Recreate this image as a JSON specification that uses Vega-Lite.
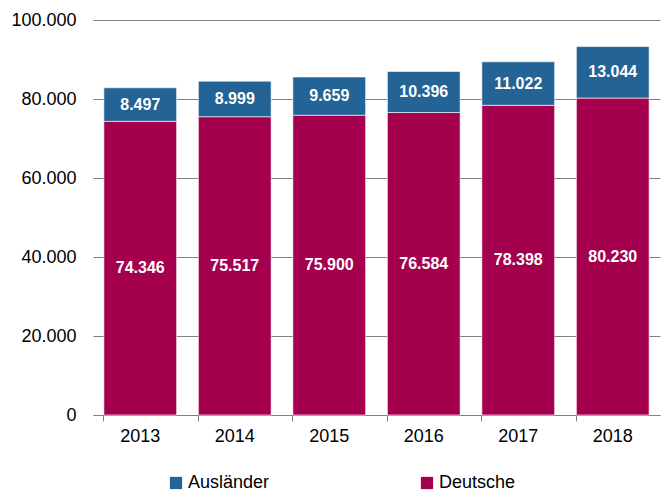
{
  "$schema": "https://vega.github.io/schema/vega-lite/v6.json",
  "width": 567,
  "height": 395,
  "autosize": {"type": "none"},
  "padding": {"left": 93, "top": 20, "right": 3, "bottom": 79},
  "data": {
    "values": [
      {"Jahr": "2013", "Gruppe": "Deutsche", "Anzahl": 74346},
      {"Jahr": "2013", "Gruppe": "Ausländer", "Anzahl": 8497},
      {"Jahr": "2014", "Gruppe": "Deutsche", "Anzahl": 75517},
      {"Jahr": "2014", "Gruppe": "Ausländer", "Anzahl": 8999},
      {"Jahr": "2015", "Gruppe": "Deutsche", "Anzahl": 75900},
      {"Jahr": "2015", "Gruppe": "Ausländer", "Anzahl": 9659},
      {"Jahr": "2016", "Gruppe": "Deutsche", "Anzahl": 76584},
      {"Jahr": "2016", "Gruppe": "Ausländer", "Anzahl": 10396},
      {"Jahr": "2017", "Gruppe": "Deutsche", "Anzahl": 78398},
      {"Jahr": "2017", "Gruppe": "Ausländer", "Anzahl": 11022},
      {"Jahr": "2018", "Gruppe": "Deutsche", "Anzahl": 80230},
      {"Jahr": "2018", "Gruppe": "Ausländer", "Anzahl": 13044}
    ]
  },
  "encoding": {
    "x": {
      "field": "Jahr",
      "type": "nominal",
      "scale": {"paddingInner": 0.23, "paddingOuter": 0.115},
      "axis": {
        "title": null,
        "labelAngle": 0,
        "labelFont": "Liberation Sans",
        "labelFontSize": 18,
        "labelColor": "#000000",
        "labelPadding": 6,
        "domainColor": "#808080",
        "tickColor": "#808080",
        "tickSize": 6,
        "bandPosition": 0,
        "grid": false
      }
    },
    "y": {
      "field": "Anzahl",
      "type": "quantitative",
      "stack": "zero",
      "scale": {"domain": [0, 100000]},
      "axis": {
        "title": null,
        "values": [0, 20000, 40000, 60000, 80000, 100000],
        "format": ",d",
        "labelFont": "Liberation Sans",
        "labelFontSize": 18,
        "labelColor": "#000000",
        "labelPadding": 17,
        "ticks": false,
        "domain": false,
        "grid": true,
        "gridColor": "#808080",
        "gridWidth": 1
      }
    },
    "order": {"field": "Gruppe", "sort": "descending"}
  },
  "layer": [
    {
      "mark": {"type": "bar", "stroke": "#ffffff", "strokeWidth": 1, "strokeOpacity": 0.6},
      "encoding": {
        "color": {
          "field": "Gruppe",
          "type": "nominal",
          "scale": {"domain": ["Ausländer", "Deutsche"], "range": ["#236395", "#A5004D"]},
          "legend": {
            "title": null,
            "orient": "none",
            "direction": "horizontal",
            "legendX": 74,
            "legendY": 454,
            "symbolType": "square",
            "symbolSize": 150,
            "symbolStrokeWidth": 0,
            "labelFont": "Liberation Sans",
            "labelFontSize": 18,
            "labelColor": "#000000",
            "labelOffset": 3,
            "columnPadding": 148
          }
        }
      }
    },
    {
      "mark": {"type": "text", "color": "#ffffff", "font": "Liberation Sans", "fontWeight": "bold", "fontSize": 16, "baseline": "middle"},
      "encoding": {
        "y": {"field": "Anzahl", "type": "quantitative", "stack": "zero", "bandPosition": 0.5},
        "text": {"field": "Anzahl", "type": "quantitative", "format": ",d"}
      }
    }
  ],
  "config": {
    "view": {"stroke": null},
    "locale": {
      "number": {"decimal": ",", "thousands": ".", "grouping": [3], "currency": ["", " €"]}
    }
  }
}
